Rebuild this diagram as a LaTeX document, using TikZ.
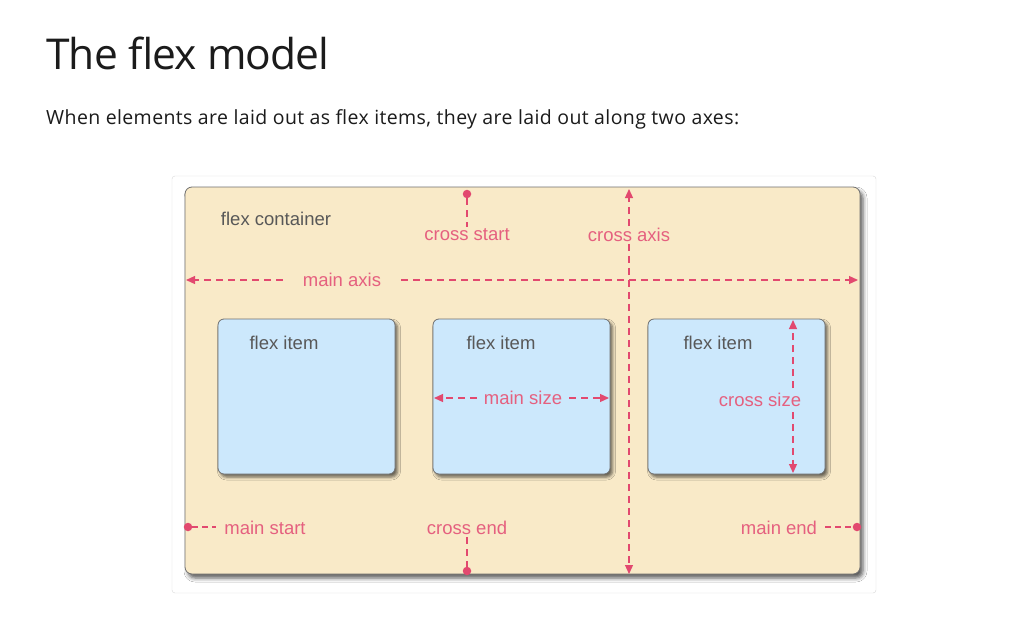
\documentclass[tikz,border=0pt]{standalone}
\usepackage{fontspec}
\setmainfont{Liberation Sans}
\newfontfamily\pagefont[LetterSpace=2]{Open Sans}
\newfontfamily\titlefont[LetterSpace=-2]{Open Sans}
\usetikzlibrary{arrows.meta,shadows.blur}

\definecolor{beige}{HTML}{F9EAC8}
\definecolor{itemblue}{HTML}{CCE8FC}
\definecolor{axispink}{HTML}{E2496F}
\definecolor{labelpink}{HTML}{E5607F}
\definecolor{boxgray}{HTML}{707070}
\definecolor{textgray}{HTML}{585858}
\definecolor{ink}{HTML}{1B1B1B}

\tikzset{
  axis/.style={draw=axispink, line width=1.2pt, dash pattern=on 7pt off 5pt},
  tip/.style={axis, -{Triangle[length=9pt,width=8pt]}},
  dot/.style={circle, fill=axispink, inner sep=0pt, minimum size=8.5pt},
  lbl/.style={text=labelpink, font=\fontsize{18.5}{22}\selectfont, inner sep=2pt},
  gray lbl/.style={text=textgray, font=\fontsize{18.5}{22}\selectfont, inner sep=0pt},
  itembox/.style={draw=boxgray, line width=0.8pt, fill=itemblue, rounded corners=6pt,
    minimum width=177pt, minimum height=155pt, inner sep=0pt,
    blur shadow={shadow xshift=2.5pt, shadow yshift=-3pt, shadow blur radius=3pt, shadow opacity=60}},
}

\begin{document}
\begin{tikzpicture}[x=1pt, y=-1pt]
    \useasboundingbox (0,0) rectangle (1016,626);
    \fill[white] (0,0) rectangle (1016,626);

    % heading
    \node[anchor=base west, inner sep=0pt, text=ink] (title) at (46,70)
        {\titlefont\fontsize{42.5}{50}\selectfont The flex model};
    \node[anchor=base west, inner sep=0pt, text=ink] (intro) at (46,124)
        {\pagefont\fontsize{19.5}{24}\selectfont When elements are laid out as flex items, they are laid out along two axes:};

    % frame and container
    \draw[draw=black!15, fill=white, rounded corners=3pt] (172,176) rectangle (876,593);
    \node[draw=boxgray, line width=0.8pt, fill=beige, rounded corners=7pt,
        minimum width=675pt, minimum height=387pt, inner sep=0pt,
        blur shadow={shadow xshift=3pt, shadow yshift=-4pt, shadow blur radius=4pt, shadow opacity=65}]
        (container) at (522.5,380.5) {};
    \node[gray lbl] (containerlbl) at (276,219) {flex container};

    % flex items
    \node[itembox] (item1) at (306.5,396.5) {};
    \node[itembox] (item2) at (521.5,396.5) {};
    \node[itembox] (item3) at (736.5,396.5) {};
    \node[gray lbl] (itemlbl1) at (284,343) {flex item};
    \node[gray lbl] (itemlbl2) at (501,343) {flex item};
    \node[gray lbl] (itemlbl3) at (718,343) {flex item};

    % main axis
    \coordinate (ma left) at (186,280);
    \coordinate (ma right) at (858,280);
    \node[lbl, inner xsep=20pt] (mainaxis) at (342,280) {main axis};
    \draw[tip] (mainaxis.west) -- (ma left);
    \draw[tip] (mainaxis.east) -- (ma right);

    % cross axis
    \coordinate (ca top) at (629,189);
    \coordinate (ca bottom) at (629,574);
    \node[lbl, fill=beige] (crossaxis) at (629,235) {cross axis};
    \draw[tip] (crossaxis.north) -- (ca top);
    \draw[tip] (crossaxis.south) -- (ca bottom);

    % cross start / cross end
    \node[dot] (csdot) at (467,194) {};
    \node[lbl] (crossstart) at (467,235) {cross start};
    \draw[axis] (csdot) -- (crossstart.north);
    \node[dot] (cedot) at (467,571) {};
    \node[lbl] (crossend) at (467,528) {cross end};
    \draw[axis] (crossend.south) -- (cedot);

    % main start / main end
    \node[dot] (msdot) at (188,527) {};
    \node[lbl, inner xsep=8pt] (mainstart) at (265,528) {main start};
    \draw[axis, dash pattern=on 6pt off 4pt] (msdot) -- (mainstart.west |- msdot);
    \node[dot] (medot) at (857,527) {};
    \node[lbl, inner xsep=8pt] (mainend) at (779,528) {main end};
    \draw[axis, dash pattern=on 6pt off 4pt] (mainend.east |- medot) -- (medot);

    % main size
    \coordinate (msz left) at (434,398);
    \coordinate (msz right) at (609,398);
    \node[lbl, inner xsep=7pt] (mainsize) at (523,398) {main size};
    \draw[tip] (mainsize.west) -- (msz left);
    \draw[tip] (mainsize.east) -- (msz right);

    % cross size
    \coordinate (csz top) at (793,320);
    \coordinate (csz bottom) at (793,473);
    \node[lbl, inner ysep=5pt] (crosssize) at (760,400) {cross size};
    \draw[tip] (crosssize.north -| csz top) -- (csz top);
    \draw[tip] (crosssize.south -| csz top) -- (csz bottom);
\end{tikzpicture}
\end{document}
